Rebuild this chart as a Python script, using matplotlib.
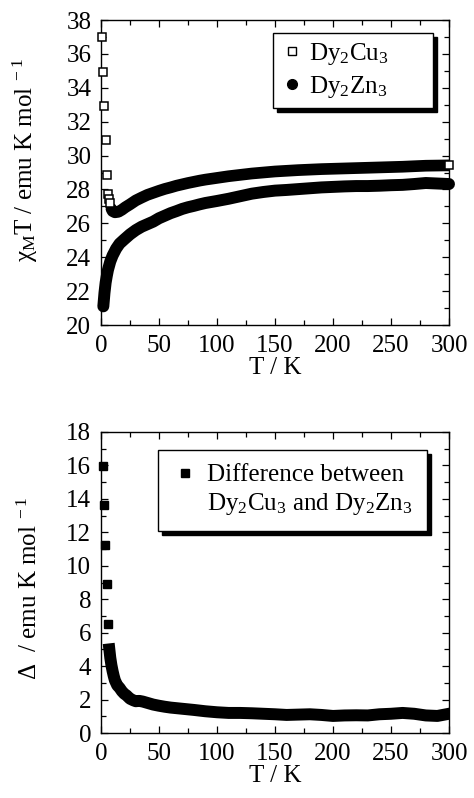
import matplotlib
matplotlib.use("Agg")
import matplotlib.pyplot as plt
from matplotlib.lines import Line2D
from matplotlib.ticker import MultipleLocator

plt.rcParams["font.family"] = ["Liberation Serif", "DejaVu Serif"]
plt.rcParams["mathtext.fontset"] = "custom"
plt.rcParams["mathtext.rm"] = "Liberation Serif"
plt.rcParams["mathtext.it"] = "Liberation Serif:italic"
plt.rcParams["mathtext.bf"] = "Liberation Serif:bold"

# chi_M T of Dy2Cu3 (first points are the separated low-T squares)
cu_T = [1.1, 2.0, 2.8, 4.0, 5.2, 5.8, 6.9, 7.8,
        9, 10, 12, 15, 18, 21, 25, 30, 35, 40, 45, 50, 55, 60, 65, 70, 75,
        80, 85, 90, 95, 100, 110, 120, 130, 140, 150, 160, 170, 180, 190,
        200, 210, 220, 230, 240, 250, 260, 270, 280, 290, 300]
cu_chiT = [37.02, 34.95, 32.93, 30.92, 28.85, 27.71, 27.42, 27.18,
           26.85, 26.72, 26.65, 26.68, 26.8, 26.95, 27.12, 27.35, 27.52,
           27.68, 27.8, 27.92, 28.03, 28.12, 28.22, 28.3, 28.38, 28.45,
           28.52, 28.58, 28.63, 28.68, 28.78, 28.86, 28.94, 29.0, 29.06,
           29.1, 29.14, 29.17, 29.2, 29.22, 29.24, 29.26, 29.28, 29.3,
           29.32, 29.34, 29.37, 29.4, 29.41, 29.42]
n_sparse_cu = 8

# chi_M T of Dy2Zn3
zn_T = [2, 3, 4, 5, 6, 8, 10, 13, 16, 20, 25, 30, 35, 40, 45, 50, 55, 60,
        65, 70, 75, 80, 85, 90, 95, 100, 110, 120, 130, 140, 150, 160, 170,
        180, 190, 200, 210, 220, 230, 240, 250, 260, 270, 280, 290, 300]
zn_chiT = [21.1, 21.9, 22.5, 22.9, 23.25, 23.75, 24.1, 24.5, 24.8, 25.05,
           25.35, 25.6, 25.8, 25.95, 26.1, 26.3, 26.45, 26.6, 26.72, 26.85,
           26.95, 27.03, 27.12, 27.2, 27.26, 27.32, 27.45, 27.6, 27.75,
           27.85, 27.93, 27.97, 28.02, 28.07, 28.12, 28.15, 28.18, 28.2,
           28.2, 28.22, 28.25, 28.27, 28.32, 28.38, 28.35, 28.32]

# difference Dy2Cu3 - Dy2Zn3
d_T = [2.0, 2.8, 3.7, 5.2, 6.3,
       7.2, 8, 9, 10, 11, 12, 14, 16, 18, 20, 22, 25, 28, 30, 33, 36, 40,
       45, 50, 55, 60, 70, 80, 90, 100, 110, 120, 130, 140, 150, 160, 170,
       180, 190, 200, 210, 220, 230, 240, 250, 260, 270, 280, 290, 300]
d_val = [15.97, 13.64, 11.24, 8.89, 6.5,
         5.0, 4.5, 4.05, 3.7, 3.4, 3.15, 2.85, 2.7, 2.5, 2.35, 2.25, 2.05,
         1.95, 1.9, 1.92, 1.88, 1.8, 1.7, 1.63, 1.57, 1.52, 1.45, 1.38,
         1.3, 1.24, 1.2, 1.2, 1.18, 1.15, 1.12, 1.08, 1.1, 1.12, 1.08,
         1.02, 1.05, 1.06, 1.05, 1.12, 1.15, 1.2, 1.15, 1.05, 1.02, 1.15]
n_sparse_d = 5

FS = 18
W, H = 474, 798
fig = plt.figure(figsize=(W / 100, H / 100), dpi=100)
ax1 = fig.add_axes([101 / W, 1 - 325 / H, 348 / W, 305 / H])
ax2 = fig.add_axes([101 / W, 1 - 733 / H, 348 / W, 301 / H])


def style_axes(ax, ymax, ymin):
    ax.set_xlim(0, 300)
    ax.set_ylim(ymin, ymax)
    ax.xaxis.set_major_locator(MultipleLocator(50))
    ax.xaxis.set_minor_locator(MultipleLocator(25))
    ax.yaxis.set_major_locator(MultipleLocator(2))
    ax.yaxis.set_minor_locator(MultipleLocator(1))
    ax.tick_params(which="both", direction="in", top=True, right=True,
                   labelsize=FS, width=0.9)
    ax.tick_params(which="major", length=5, pad=7)
    ax.tick_params(which="minor", length=3.5)
    for s in ax.spines.values():
        s.set_linewidth(1.0)
    ax.set_xlabel("T / K", fontsize=FS, labelpad=0)


# top panel
ax1.plot(cu_T[n_sparse_cu:], cu_chiT[n_sparse_cu:], color="k", lw=8.4,
         solid_capstyle="round", zorder=2)
ax1.plot(cu_T[:n_sparse_cu], cu_chiT[:n_sparse_cu], ls="none", marker="s",
         ms=6, mfc="white", mec="k", mew=1.1, zorder=3, clip_on=False)
ax1.plot(cu_T[-1:], cu_chiT[-1:], ls="none", marker="s", ms=6, mfc="white",
         mec="k", mew=1.1, zorder=3, clip_on=False)
ax1.plot(zn_T, zn_chiT, color="k", lw=8.6, solid_capstyle="round",
         zorder=2, clip_on=False)
style_axes(ax1, 38, 20)
ax1.set_ylabel("\u03c7$_{\\mathrm{M}}$T / emu K mol$^{\\mathrm{\\ -1}}$",
               fontsize=FS)
ax1.yaxis.set_label_coords(-0.175, 0.54)

h_cu = Line2D([], [], ls="none", marker="s", ms=5.5, mfc="white", mec="k",
              mew=1.0)
h_zn = Line2D([], [], ls="none", marker="o", ms=7, color="k")
leg1 = ax1.legend([h_cu, h_zn], ["Dy$_2$Cu$_3$", "Dy$_2$Zn$_3$"],
                  loc="upper right", bbox_to_anchor=(0.494, 0.6, 0.46, 0.357),
                  mode="expand", borderaxespad=0, fontsize=FS,
                  fancybox=False, edgecolor="k", framealpha=1,
                  handlelength=0.9, handletextpad=0.25, labelspacing=0.3,
                  borderpad=0.3,
                  shadow=dict(ox=3, oy=-3, color="k", alpha=1))
leg1.get_frame().set_linewidth(1.0)

# bottom panel
ax2.plot(d_T[n_sparse_d:], d_val[n_sparse_d:], color="k", lw=8.6,
         solid_capstyle="projecting", zorder=2)
ax2.plot(d_T[:n_sparse_d], d_val[:n_sparse_d], ls="none", marker="s",
         ms=6, color="k", zorder=3, clip_on=False)
style_axes(ax2, 18, 0)
ax2.set_ylabel("\u0394  / emu K mol$^{\\mathrm{\\ -1}}$", fontsize=FS)
ax2.yaxis.set_label_coords(-0.17, 0.48)

h_d = Line2D([], [], ls="none", marker="s", ms=6, color="k")
h_blank = Line2D([], [], ls="none")
leg2 = ax2.legend([h_d, h_blank],
                  ["Difference between", "Dy$_2$Cu$_3$ and Dy$_2$Zn$_3$"],
                  loc="upper right", bbox_to_anchor=(0.164, 0.5, 0.773, 0.44),
                  mode="expand", borderaxespad=0, fontsize=FS,
                  fancybox=False, edgecolor="k", framealpha=1,
                  handlelength=1.05, handletextpad=0.35, labelspacing=0.2,
                  borderpad=0.55,
                  shadow=dict(ox=3, oy=-3, color="k", alpha=1))
leg2.get_frame().set_linewidth(1.0)

fig.savefig("out.png", dpi=100)
